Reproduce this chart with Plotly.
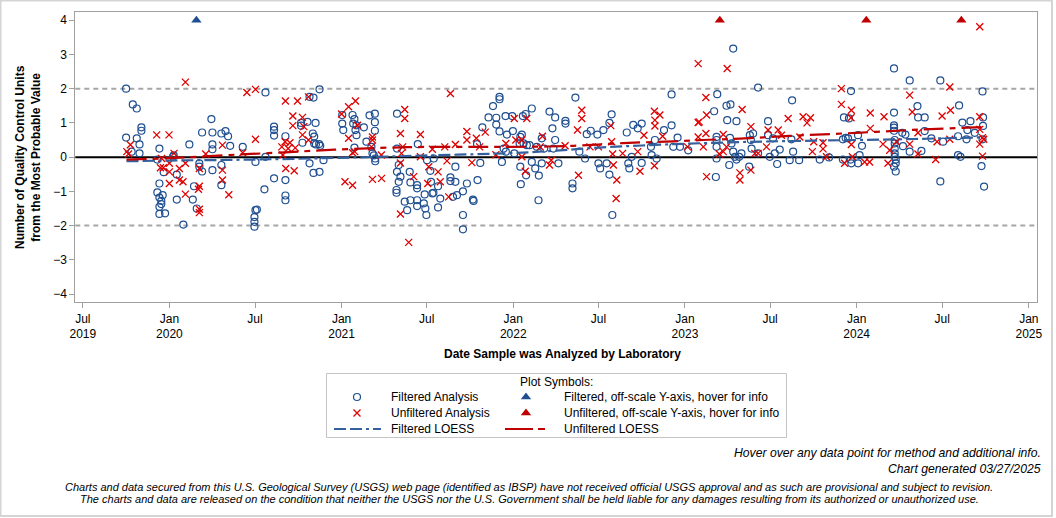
import numpy as np
import pandas as pd
import plotly.graph_objects as go

# ---------------- data (decimal year of analysis, QC units from MPV) ----------------
filt_year = [
 2019.748, 2019.748, 2019.787, 2019.810, 2019.810, 2019.826, 2019.826, 2019.837, 2019.837, 2019.780,
 2019.930, 2019.942, 2019.930, 2019.942, 2019.942, 2019.942, 2019.953, 2019.953, 2019.961, 2019.942,
 2019.975, 2019.967, 2020.021, 2020.025, 2020.043, 2020.043, 2020.081, 2020.116, 2020.136, 2020.143,
 2020.159, 2020.174, 2020.174, 2020.190, 2020.190, 2020.244, 2020.250, 2020.250, 2020.250, 2020.250,
 2020.302, 2020.302, 2020.302, 2020.326, 2020.341, 2020.353, 2020.426, 2020.494, 2020.494, 2020.494,
 2020.500, 2020.508, 2020.500, 2020.558, 2020.558, 2020.552, 2020.608, 2020.608, 2020.608, 2020.608,
 2020.674, 2020.674, 2020.674, 2020.674, 2020.765, 2020.765, 2020.773, 2020.802, 2020.814, 2020.833,
 2020.841, 2020.841, 2020.849, 2020.837, 2020.814, 2020.837, 2020.872, 2020.870, 2020.872, 2020.876,
 2020.895, 2020.851,
 2021.004, 2021.004, 2021.010, 2021.064, 2021.075, 2021.068, 2021.087, 2021.081, 2021.087, 2021.075,
 2021.130, 2021.163, 2021.194, 2021.194, 2021.194, 2021.145, 2021.174, 2021.180, 2021.188, 2021.196,
 2021.196, 2021.323, 2021.323, 2021.323, 2021.333, 2021.343, 2021.333, 2021.320, 2021.320, 2021.397,
 2021.401, 2021.368, 2021.382, 2021.401, 2021.440, 2021.440, 2021.440, 2021.440, 2021.444, 2021.479,
 2021.488, 2021.494, 2021.484, 2021.498, 2021.517, 2021.521, 2021.529, 2021.535, 2021.562, 2021.575,
 2021.562, 2021.537, 2021.634, 2021.634, 2021.663, 2021.663, 2021.672, 2021.649, 2021.707, 2021.707,
 2021.707, 2021.730, 2021.765, 2021.769, 2021.789, 2021.792, 2021.808, 2021.820, 2021.856, 2021.882,
 2021.901, 2021.901, 2021.920, 2021.920, 2021.920, 2021.934, 2021.944, 2021.955, 2021.963, 2021.957,
 2021.994, 2021.998, 2022.006, 2022.041, 2022.050, 2022.056, 2022.072, 2022.108, 2022.041, 2022.044,
 2022.037, 2022.060, 2022.075, 2022.079, 2022.095, 2022.108, 2022.128, 2022.137, 2022.149, 2022.147,
 2022.166, 2022.166, 2022.180, 2022.211, 2022.228, 2022.244, 2022.244, 2022.234, 2022.263, 2022.304,
 2022.304, 2022.345, 2022.345, 2022.362, 2022.385, 2022.418, 2022.428, 2022.451, 2022.490, 2022.496,
 2022.506, 2022.525, 2022.560, 2022.573, 2022.544, 2022.560, 2022.577, 2022.661, 2022.670, 2022.676,
 2022.699, 2022.725, 2022.748, 2022.748, 2022.690, 2022.802, 2022.806, 2022.825, 2022.835, 2022.878,
 2022.922, 2022.922, 2022.932, 2022.957, 2022.971, 2023.019,
 2023.281, 2023.188, 2023.426, 2023.170, 2023.242, 2023.265, 2023.246, 2023.300, 2023.184, 2023.184,
 2023.184, 2023.184, 2023.258, 2023.262, 2023.271, 2023.281, 2023.291, 2023.300, 2023.316, 2023.329,
 2023.180, 2023.374, 2023.378, 2023.384, 2023.397, 2023.388, 2023.426, 2023.484, 2023.484, 2023.513,
 2023.537, 2023.523, 2023.494, 2023.552, 2023.610, 2023.624, 2023.620, 2023.630, 2023.665, 2023.785,
 2023.839, 2023.920, 2023.920, 2023.936, 2023.950, 2023.926, 2023.955, 2023.967, 2024.008, 2024.017,
 2024.031, 2024.008, 2023.969, 2023.965, 2024.217, 2024.217, 2024.217, 2024.217, 2024.217, 2024.221,
 2024.221, 2024.221, 2024.221, 2024.221, 2024.227, 2024.227, 2024.217, 2024.227, 2024.265, 2024.269,
 2024.283, 2024.308, 2024.308, 2024.353, 2024.357, 2024.395, 2024.395, 2024.376, 2024.434, 2024.486,
 2024.486, 2024.502, 2024.595, 2024.614, 2024.661, 2024.643, 2024.638, 2024.589, 2024.589, 2024.603,
 2024.686, 2024.731, 2024.734, 2024.734, 2024.725, 2024.740, 2024.731,
]
filt_value = [
 2.00, 0.57, 1.54, 1.42, 0.55, 0.37, 0.11, 0.87, 0.77, 0.16,
 -0.07, 0.25, -1.03, -0.77, -1.18, -1.45, -1.28, -1.37, -1.11, -1.66,
 -1.64, -0.44, 0.01, 0.05, -0.51, -1.24, -1.97, 0.37, -1.24, -0.85,
 -1.50, -0.18, -0.28, 0.72, -0.42, 1.11, 0.72, 0.37, 0.23, -0.38,
 0.69, -0.23, -0.82, 0.76, 0.61, 0.33, 0.30, -1.75, -1.89, -2.03,
 -1.55, -1.53, -0.14, 1.89, 0.01, -0.94, 0.89, 0.79, 0.63, -0.62,
 0.61, -0.67, -1.12, -1.26, 0.92, 1.00, 0.42, 1.03, -0.18, 0.69,
 0.60, 0.40, 1.00, -0.46, 1.76, 1.74, 1.98, 0.38, -0.43, 0.33,
 -0.09, 0.37,
 1.23, 0.98, 0.79, 1.23, 1.11, 0.98, 0.93, 0.79, 0.64, 0.28,
 0.87, 1.22, 1.27, 1.02, 0.77, 0.45, 0.30, 0.11, 0.05, -0.04,
 -0.12, 1.27, 0.25, -0.43, -0.23, -0.57, -0.72, -0.96, -1.04, -0.43,
 -0.74, -1.30, -1.55, -1.26, -0.82, -0.91, -1.26, -1.43, 0.38, -1.35,
 -1.50, -1.69, -1.09, -0.09, -0.40, -0.72, -1.06, -1.04, -1.47, -1.21,
 -0.85, -0.04, -0.59, -0.70, -0.28, -0.72, -1.11, -1.16, -1.00, -1.69,
 -2.11, -0.77, -1.24, -1.28, 0.38, -0.67, -0.17, 0.87, 1.16, 1.49,
 1.15, 0.95, 1.76, 1.69, 0.75, -0.14, 0.25, 1.20, 0.66, 0.16,
 1.20, 0.76, 0.11, 0.59, 0.66, 1.20, 1.26, 1.42, -0.28, -0.79,
 0.40, 0.40, -0.53, 0.35, 0.35, -0.14, -0.33, 0.30, -0.54, -1.26,
 -0.18, 0.55, 0.25, 1.33, 0.84, 1.16, 0.50, 0.25, -0.18, 1.06,
 0.98, -0.77, -0.91, 1.74, 0.16, -0.04, 0.67, 0.77, 0.66, -0.18,
 -0.33, 0.79, 1.00, 1.25, -0.18, -0.51, -1.69, 0.72, -0.18, -0.33,
 0.94, 0.84, 0.98, -0.17, 0.01, 0.30, 0.06, 0.50, -0.04, 0.79,
 1.83, 0.93, 0.30, 0.57, 0.30, 0.20,
 3.17, 1.84, 2.03, 1.34, 1.50, 1.54, 1.08, 1.05, 0.59, 0.50,
 0.30, -0.04, -0.23, 0.56, 0.40, 0.16, 0.01, -0.07, 0.01, 0.11,
 -0.58, -0.28, 0.64, 0.50, 0.69, 0.25, 0.11, 1.05, 0.64, 0.55,
 -0.20, 0.11, 0.01, 0.22, -0.09, 1.66, 0.52, 0.16, -0.09, -0.07,
 -0.01, -0.07, 0.52, 0.56, 0.55, 1.16, 1.13, 1.93, 0.64, 0.06,
 0.33, -0.18, -0.18, -0.07, 2.59, 1.30, 0.93, 0.86, 0.77, 0.50,
 0.40, 0.25, 0.11, 0.01, -0.07, -0.18, -0.28, -0.42, 0.71, 0.32,
 0.66, 2.24, 0.16, 1.49, 1.16, 1.16, 0.76, 0.18, 0.55, 2.24,
 -0.71, 0.45, 1.51, 1.01, 1.05, 0.79, 0.52, 0.61, 0.06, 0.01,
 0.71, 1.92, 1.16, 0.91, -0.26, -0.86, 0.52,
]

unf_year = [
 2019.752, 2019.762, 2019.773, 2019.926, 2019.998, 2019.955, 2019.948, 2019.965, 2020.000, 2020.000,
 2020.000, 2020.027, 2020.058, 2020.058, 2020.079, 2020.093, 2020.093, 2020.093, 2020.174, 2020.174,
 2020.169, 2020.174, 2020.174, 2020.211, 2020.308, 2020.308, 2020.308, 2020.345, 2020.426, 2020.450,
 2020.500, 2020.500, 2020.653, 2020.674, 2020.672, 2020.676, 2020.725, 2020.717, 2020.717, 2020.731,
 2020.744, 2020.773, 2020.773, 2020.781, 2020.808, 2020.808, 2020.659, 2020.700, 2020.690,
 2021.000, 2021.041, 2021.081, 2021.020, 2021.064, 2021.041, 2021.093, 2021.180, 2021.180, 2021.180,
 2021.233, 2021.064, 2021.174, 2021.232, 2021.077,
 2021.343, 2021.368, 2021.368, 2021.356, 2021.349, 2021.343, 2021.343, 2021.391, 2021.420, 2021.459,
 2021.459, 2021.502, 2021.508, 2021.529, 2021.562, 2021.575, 2021.601, 2021.614, 2021.624, 2021.634,
 2021.663, 2021.730, 2021.730, 2021.759, 2021.785, 2021.804, 2021.837, 2021.899, 2021.957, 2022.006,
 2022.015, 2022.050, 2022.050, 2022.070, 2022.079, 2022.170, 2022.157, 2022.211, 2022.221, 2022.302,
 2022.374, 2022.380, 2022.399, 2022.399, 2022.447, 2022.496, 2022.568, 2022.573, 2022.579, 2022.583,
 2022.603, 2022.599, 2022.637, 2022.725, 2022.738, 2022.761, 2022.822, 2022.825, 2022.825, 2022.854,
 2022.822, 2022.870, 2023.015, 2023.077, 2023.077, 2023.077,
 2023.246, 2023.122, 2023.083, 2023.126, 2023.122, 2023.107, 2023.126, 2023.223, 2023.223, 2023.200,
 2023.242, 2023.333, 2023.320, 2023.320, 2023.384, 2023.384, 2023.407, 2023.426, 2023.484, 2023.475,
 2023.543, 2023.562, 2023.601, 2023.669, 2023.688, 2023.711, 2023.731, 2023.742, 2023.750, 2023.804,
 2023.804, 2023.824, 2023.911, 2023.911, 2023.969, 2023.967, 2023.930, 2023.969, 2023.975, 2024.046,
 2024.075, 2024.079, 2024.079, 2024.153, 2024.159, 2024.182, 2024.192, 2024.231, 2024.308, 2024.323,
 2024.356, 2024.308, 2024.356, 2024.459, 2024.467, 2024.496, 2024.545, 2024.541, 2024.541, 2024.715,
 2024.715, 2024.715, 2024.715, 2024.731, 2024.731, 2024.738,
]
unf_value = [
 0.16, 0.09, 0.36, 0.65, 0.65, -0.04, -0.31, -0.31, -0.43, -0.18,
 -0.77, 0.11, -0.33, -0.67, -0.72, -0.18, -1.08, 2.19, -0.33, -0.85,
 -0.94, -1.52, -1.62, 0.09, 0.35, -0.38, -0.67, -1.10, 0.13, 1.89,
 1.98, 0.52, 0.30, 1.64, 0.45, -0.33, -0.40, 1.20, 0.92, 0.27,
 1.64, 1.16, 0.65, 0.89, 1.76, 0.50, 0.06, 0.42, 0.25,
 1.26, 1.47, 1.64, -0.72, -0.82, 0.55, 0.93, 0.59, 0.50, -0.65,
 -0.62, 0.13, 0.30, 0.06, 0.16,
 0.69, 1.39, 1.13, 0.30, 0.11, -0.17, -1.66, -2.49, -0.57, 0.66,
 0.01, -0.77, -0.28, 0.23, -0.43, -0.72, 0.30, -0.11, -1.16, 1.86,
 0.37, 0.75, 0.50, -0.16, 0.55, 0.30, 0.73, 0.07, 0.40, 1.13,
 0.50, 0.50, 0.01, -0.41, 1.13, 0.61, 0.30, -0.23, -0.09, 0.33,
 0.79, -0.53, 1.37, 1.13, 0.30, 0.30, 0.92, 0.45, 0.09, -0.23,
 -0.67, -1.21, 0.11, 0.16, -0.41, 0.64, 1.34, 1.08, 0.91, 1.23,
 -0.25, 0.61, 0.30, 2.73, 1.01, 0.59,
 2.59, 1.74, 1.03, 1.23, 0.69, 0.30, -0.57, 0.66, 0.16, 0.09,
 0.30, 1.39, -0.46, -0.67, 0.89, -0.38, 0.11, 0.11, 0.79, 0.30,
 0.79, 0.64, 1.13, 0.59, 1.18, 1.00, 1.15, 0.16, 0.45, 0.42,
 0.24, 0.01, 2.00, 1.54, 1.37, 1.15, -0.18, 0.37, 0.01, -0.14,
 -0.14, 1.29, 0.84, 0.38, 1.18, -0.18, 0.20, 0.45, 1.81, 1.32,
 0.71, 0.38, 0.09, -0.07, 0.45, 1.20, 1.37, 2.05, 0.52, 3.81,
 1.18, 0.81, 0.38, 0.57, 0.03, 0.52,
]

# off-scale results, plotted at the top of the axis (4)
filt_off_year = [2020.157]
filt_off_value = [4.0]
unf_off_year = [2023.203, 2024.056, 2024.608]
unf_off_value = [4.0, 4.0, 4.0]

# LOESS fits
filt_loess_year = [2019.75, 2020.0, 2020.5, 2021.0, 2021.5, 2022.0, 2022.25, 2022.5, 2022.75,
                   2023.0, 2023.25, 2023.5, 2023.75, 2024.0, 2024.25, 2024.5, 2024.74]
filt_loess_value = [-0.12, -0.10, -0.07, -0.02, 0.05, 0.12, 0.19, 0.28, 0.34,
                    0.39, 0.43, 0.46, 0.48, 0.50, 0.52, 0.55, 0.58]
unf_loess_year = [2019.75, 2020.0, 2020.38, 2020.67, 2020.96, 2021.38, 2021.77, 2022.0, 2022.35,
                  2022.64, 2022.93, 2023.1, 2023.32, 2023.61, 2024.0, 2024.385, 2024.74]
unf_loess_value = [-0.07, -0.03, 0.07, 0.14, 0.22, 0.29, 0.30, 0.30, 0.33,
                   0.41, 0.46, 0.50, 0.54, 0.62, 0.71, 0.81, 0.88]

tick_dates = ["2019-07-01", "2020-01-01", "2020-07-01", "2021-01-01", "2021-07-01", "2022-01-01",
              "2022-07-01", "2023-01-01", "2023-07-01", "2024-01-01", "2024-07-01", "2025-01-01"]
tick_labels = ["Jul<br>2019", "Jan<br>2020", "Jul", "Jan<br>2021", "Jul", "Jan<br>2022",
               "Jul", "Jan<br>2023", "Jul", "Jan<br>2024", "Jul", "Jan<br>2025"]
y_ticks = [-4, -3, -2, -1, 0, 1, 2, 3, 4]

legend_labels = ["Filtered Analysis", "Filtered, off-scale Y-axis, hover for info",
                 "Unfiltered Analysis", "Unfiltered, off-scale Y-axis, hover for info",
                 "Filtered LOESS", "Unfiltered LOESS"]


def to_dates(years):
    out = []
    for y in years:
        yr = int(np.floor(y))
        s = pd.Timestamp(year=yr, month=1, day=1)
        e = pd.Timestamp(year=yr + 1, month=1, day=1)
        out.append(s + (e - s) * (y - yr))
    return out


# ---------------- styling ----------------
W, H = 1056, 518
PL, PR, PT, PB = 75.3, 1037.3, 12.3, 302.3
BLUE = "#1f4f91"
BLUE_L = "#34609e"
RED = "#e00000"
RED_L = "#c00000"
FONT = "Liberation Sans, Arial, sans-serif"
NARROW = "Liberation Sans Narrow, Arial Narrow, Liberation Sans, sans-serif"
BLUE_DASH = "12px,4px,12px,4px,3px,4px"
RED_DASH = "20px,6px,6px,6px"

fig = go.Figure()

fig.add_trace(go.Scatter(x=to_dates(filt_year), y=filt_value, mode="markers", name=legend_labels[0],
                         marker=dict(symbol="circle-open", size=7, color=BLUE, line=dict(width=1.2, color=BLUE)),
                         showlegend=False))
fig.add_trace(go.Scatter(x=to_dates(unf_year), y=unf_value, mode="markers", name=legend_labels[2],
                         marker=dict(symbol="x-thin-open", size=7, color=RED, line=dict(width=1.3, color=RED)),
                         showlegend=False))
fig.add_trace(go.Scatter(x=to_dates(filt_loess_year), y=filt_loess_value, mode="lines", name=legend_labels[4],
                         line=dict(color=BLUE_L, width=2.2, dash=BLUE_DASH, shape="spline"), showlegend=False))
fig.add_trace(go.Scatter(x=to_dates(unf_loess_year), y=unf_loess_value, mode="lines", name=legend_labels[5],
                         line=dict(color=RED_L, width=2.2, dash=RED_DASH, shape="spline"), showlegend=False))
fig.add_trace(go.Scatter(x=to_dates(filt_off_year), y=filt_off_value, mode="markers", name=legend_labels[1],
                         marker=dict(symbol="triangle-up", size=9, color=BLUE), showlegend=False))
fig.add_trace(go.Scatter(x=to_dates(unf_off_year), y=unf_off_value, mode="markers", name=legend_labels[3],
                         marker=dict(symbol="triangle-up", size=9, color="#c00000"), showlegend=False))

# ---------------- manual legend in a pixel-space overlay axis ----------------
LG = dict(xaxis="x2", yaxis="y2", showlegend=False, hoverinfo="skip")
row_y = [397, 413, 429]
c1_sym, c2_sym = 357, 526
fig.add_trace(go.Scatter(x=[c1_sym], y=[row_y[0]], mode="markers",
                         marker=dict(symbol="circle-open", size=7, color=BLUE, line=dict(width=1.2, color=BLUE)), **LG))
fig.add_trace(go.Scatter(x=[c1_sym], y=[row_y[1]], mode="markers",
                         marker=dict(symbol="x-thin-open", size=7, color=RED, line=dict(width=1.3, color=RED)), **LG))
fig.add_trace(go.Scatter(x=[c2_sym], y=[row_y[0]], mode="markers",
                         marker=dict(symbol="triangle-up", size=9, color=BLUE), **LG))
fig.add_trace(go.Scatter(x=[c2_sym], y=[row_y[1]], mode="markers",
                         marker=dict(symbol="triangle-up", size=9, color="#c00000"), **LG))
fig.add_trace(go.Scatter(x=[334, 381], y=[row_y[2], row_y[2]], mode="lines",
                         line=dict(color=BLUE_L, width=2.2, dash=BLUE_DASH), **LG))
fig.add_trace(go.Scatter(x=[505, 546], y=[row_y[2], row_y[2]], mode="lines",
                         line=dict(color=RED_L, width=2.2, dash="28px,5px,7px,5px"), **LG))

annotations = []
def txt(x, y, t, size=12, xanchor="left", font=FONT, italic=False, bold=False, angle=0):
    if bold:
        t = "<b>" + t + "</b>"
    if italic:
        t = "<i>" + t + "</i>"
    annotations.append(dict(x=x, y=y, xref="x2", yref="y2", text=t, showarrow=False,
                            xanchor=xanchor, yanchor="middle", textangle=angle,
                            font=dict(family=font, size=size, color="black")))

txt(556, 382, "Plot Symbols:", xanchor="center")
txt(389, row_y[0], legend_labels[0])
txt(562, row_y[0], legend_labels[1])
txt(389, row_y[1], legend_labels[2])
txt(562, row_y[1], legend_labels[3])
txt(389, row_y[2], legend_labels[4])
txt(562, row_y[2], legend_labels[5])

txt(562, 354, "Date Sample was Analyzed by Laboratory", xanchor="center", bold=True)
txt(28, 157, "Number of Quality Control Units<br>from the Most Probable Value", xanchor="center",
    bold=True, angle=-90)

txt(1043, 453, "Hover over any data point for method and additional info.", size=12.2, xanchor="right",
    font=NARROW, italic=True)
txt(1043, 469, "Chart generated 03/27/2025", size=12.2, xanchor="right", font=NARROW, italic=True)
txt(529, 487, "Charts and data secured from this U.S. Geological Survey (USGS) web page (identified as IBSP) "
              "have not received official USGS approval and as such are provisional and subject to revision.",
    size=11, xanchor="center", font=NARROW, italic=True)
txt(529, 499, "The charts and data are released on the condition that neither the USGS nor the U.S. Government "
              "shall be held liable for any damages resulting from its authorized or unauthorized use.",
    size=11, xanchor="center", font=NARROW, italic=True)

shapes = [
    # reference lines
    dict(type="line", xref="x domain", yref="y", x0=0, x1=1, y0=2, y1=2, layer="below",
         line=dict(color="#a6a6a6", width=2, dash="5px,4px")),
    dict(type="line", xref="x domain", yref="y", x0=0, x1=1, y0=-2, y1=-2, layer="below",
         line=dict(color="#a6a6a6", width=2, dash="5px,4px")),
    dict(type="line", xref="x domain", yref="y", x0=0, x1=1, y0=0, y1=0, layer="below",
         line=dict(color="black", width=2)),
    # legend frame
    dict(type="rect", xref="x2", yref="y2", x0=326.5, x1=786.5, y0=373.5, y1=437.5,
         line=dict(color="#c4c4c4", width=1)),
    # outer border
    dict(type="rect", xref="x2", yref="y2", x0=0.5, x1=1052, y0=0.5, y1=516,
         line=dict(color="#d4d4d4", width=2)),
]

fig.update_layout(
    template="none",
    width=W, height=H,
    margin=dict(l=0, r=0, t=0, b=0, pad=0, autoexpand=False),
    paper_bgcolor="white", plot_bgcolor="rgba(0,0,0,0)",
    showlegend=False,
    font=dict(family=FONT, size=12, color="black"),
    xaxis=dict(type="date", domain=[PL / W, PR / W], range=["2019-06-15", "2025-01-19"],
               tickmode="array", tickvals=tick_dates, ticktext=tick_labels, automargin=False,
               ticks="outside", ticklen=5, tickcolor="#a0a0a0", showgrid=False, zeroline=False,
               showline=True, linecolor="#a0a0a0", linewidth=1, mirror=True,
               tickfont=dict(family=FONT, size=12, color="black"), anchor="y"),
    yaxis=dict(domain=[(H - PB) / H, (H - PT) / H], range=[-4.24, 4.23],
               tickmode="array", tickvals=y_ticks, automargin=False,
               ticks="outside", ticklen=5, tickcolor="#a0a0a0", showgrid=False, zeroline=False,
               showline=True, linecolor="#a0a0a0", linewidth=1, mirror=True,
               tickfont=dict(family=FONT, size=12, color="black"), anchor="x"),
    xaxis2=dict(domain=[0, 1], range=[0, W], visible=False, anchor="y2", fixedrange=True, automargin=False),
    yaxis2=dict(domain=[0, 1], range=[H, 0], visible=False, anchor="x2", fixedrange=True, automargin=False),
    annotations=annotations,
    shapes=shapes,
)

fig.write_html("out.html")
